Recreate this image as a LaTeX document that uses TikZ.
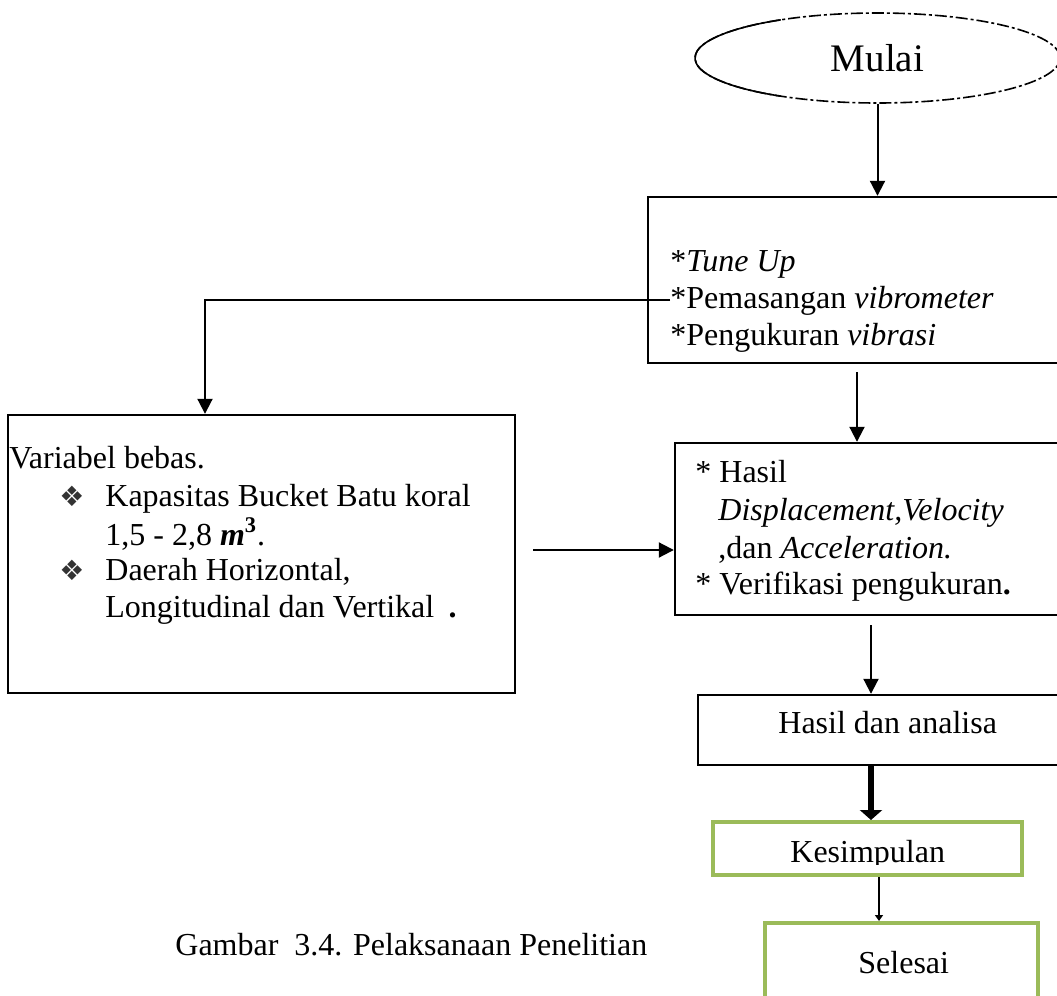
\documentclass[tikz,border=0pt]{standalone}
\usepackage{fontspec}
\setmainfont{Liberation Serif}
\newfontfamily\dingfont{DejaVu Sans}
\usepackage{tikz}
\usetikzlibrary{arrows.meta,positioning,shapes.geometric}
\newcommand{\dbul}{{\dingfont\fontsize{14}{16}\selectfont\textcolor{black!80}{❖}}}
\newcommand{\cubic}{\textbf{\textit{m}}\textsuperscript{\textbf{3}}}
\definecolor{okgreen}{HTML}{9BBB59}

\begin{document}
\begin{tikzpicture}[x=0.5pt,y=-0.5pt,font=\fontsize{16}{18.5}\selectfont,
  box/.style={draw,line width=1.2pt,inner sep=0pt},
  greenbox/.style={draw=okgreen,line width=2pt,inner sep=0pt},
  txt/.style={anchor=base west,inner sep=0pt},
  arr/.style={-{Triangle[length=7.5pt,width=7.5pt]},line width=1pt},
  fatarr/.style={-{Triangle[length=5pt,width=11pt]},line width=3.2pt},
  smallarr/.style={-{Triangle[length=3pt,width=4pt]},line width=1pt}]
  \path[use as bounding box] (0,0) rectangle (1057,996);
  \clip (0,0) rectangle (1057,996);

  % start
  \node[ellipse,draw,line width=0.8pt,inner sep=0pt,minimum width=182.5pt,
    minimum height=45pt,dash pattern={on 6pt off 1.5pt on 1.5pt off 1.5pt},
    font=\fontsize{19.5}{22}\selectfont] (start) at (877.5,58) {Mulai};
  \draw[line width=0.8pt] (start.center) ++(122:182.5 and 45)
    arc[start angle=122,end angle=238,x radius=182.5,y radius=45];

  % boxes (right side runs off the page)
  \node[box,minimum width=213.5pt,minimum height=83pt] (proc) at (861.5,280) {};
  \node[box,minimum width=253.5pt,minimum height=139pt] (left) at (261.5,554) {};
  \node[box,minimum width=200pt,minimum height=86pt] (res) at (875,529) {};
  \node[box,minimum width=188.5pt,minimum height=35pt] (hasil) at (886.5,730) {};
  \node[greenbox,minimum width=154.5pt,minimum height=26.5pt] (kes) at (867.5,848.5) {};
  \node[greenbox,minimum width=136.5pt,minimum height=43.5pt] (sel) at (901.5,966.5) {};

  % rows: {name}/{x}/{baseline}/{text}
  \foreach \n/\x/\y/\t in {%
    tu/670/271/{*\textit{Tune Up}},
    pm/670/308/{*Pemasangan \textit{vibrometer}},
    pk/670/345/{*Pengukuran \textit{vibrasi}},
    vb/9/468/{Variabel bebas.},
    ka/105/506/{Kapasitas Bucket Batu koral},
    kb/105/545/{1,5 - 2,8 \cubic.},
    da/105/580/{Daerah Horizontal,},
    db/105/617/{Longitudinal dan Vertikal\hspace{0.45em}\textbf{.}},
    ha/695/482/{* Hasil},
    hb/718/520/{\textit{Displacement,Velocity}},
    hc/718/558/{,dan \textit{Acceleration.}},
    hd/695/594/{* Verifikasi pengukuran\textbf{.}},
    an/778/733/{Hasil dan analisa},
    se/858/973/{Selesai},
    cap/175/955/{Gambar\ \ 3.4. Pelaksanaan Penelitian}}{
      \node[txt] (\n) at (\x,\y) {\t};
  }
  \foreach \n/\y in {bl1/506,bl2/580}
    \node[txt] (\n) at (59,\y) {\dbul};
  \begin{scope}
    \coordinate (kcut) at (1022,864);
    \clip (kes.north west) rectangle (kcut);
    \node[txt] (ks) at (790,862) {Kesimpulan};
  \end{scope}

  % connectors
  \coordinate (c1) at (857,372);
  \coordinate (c2) at (205,302);
  \coordinate (c3) at (533,550);
  \coordinate (c4) at (871,625);
  \coordinate (c5) at (879,900);
  \draw[arr] (start.south) -- (start.south |- proc.north);
  \draw[arr] (pm.west) -| (c2 |- left.north);
  \draw[arr] (c1) -- (c1 |- res.north);
  \draw[arr] (c3) -- (c3 -| res.west);
  \draw[arr] (c4) -- (c4 |- hasil.north);
  \draw[fatarr] (hasil.south -| c4) -- (c4 |- kes.north);
  \draw[smallarr] (kes.south -| c5) -- (c5 |- sel.north);
\end{tikzpicture}
\end{document}
